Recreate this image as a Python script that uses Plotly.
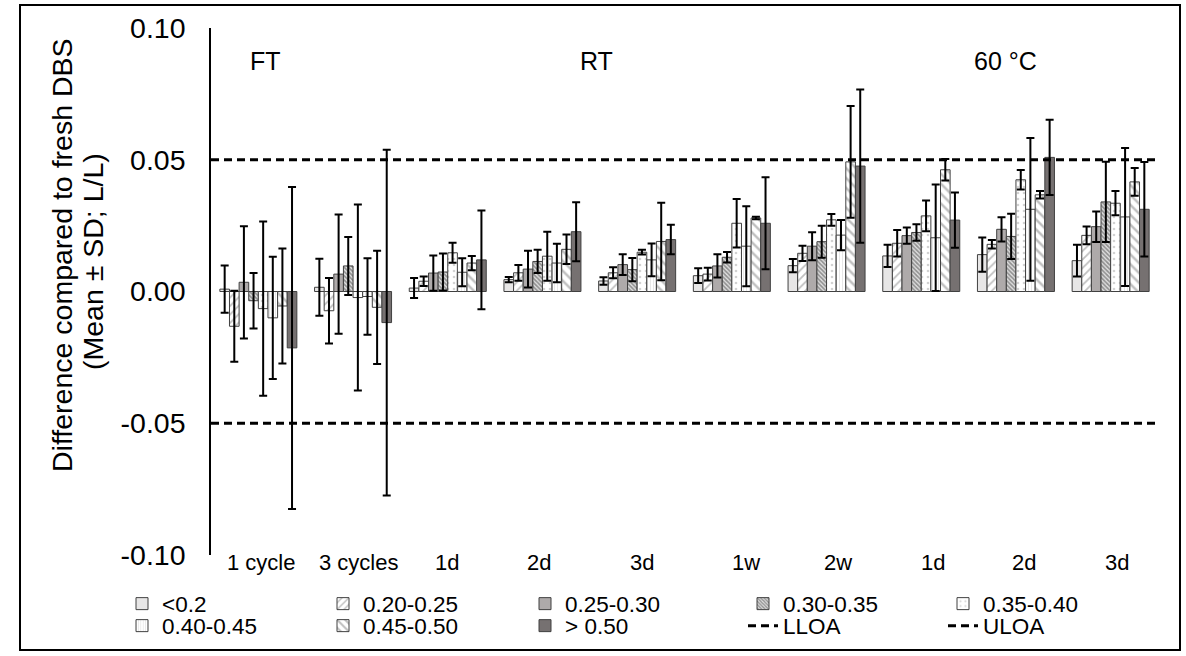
import plotly.graph_objects as go

# ---------------- data ----------------
categories = ["1 cycle", "3 cycles", "1d", "2d", "3d", "1w", "2w", "1d", "2d", "3d"]
group_titles = ["FT", "RT", "60 °C"]
series_names = ["<0.2", "0.20-0.25", "0.25-0.30", "0.30-0.35", "0.35-0.40",
                "0.40-0.45", "0.45-0.50", "> 0.50"]

mean_lt020 = [0.0009, 0.0016, 0.0013, 0.0045, 0.0040, 0.0060, 0.0098, 0.0135, 0.0140, 0.0117]
sd_lt020 = [0.0090, 0.0108, 0.0038, 0.0010, 0.0014, 0.0028, 0.0025, 0.0042, 0.0065, 0.0060]

mean_020_025 = [-0.0132, -0.0073, 0.0039, 0.0071, 0.0071, 0.0066, 0.0145, 0.0183, 0.0179, 0.0213]
sd_020_025 = [0.0135, 0.0124, 0.0018, 0.0030, 0.0021, 0.0024, 0.0029, 0.0050, 0.0016, 0.0034]

mean_025_030 = [0.0035, 0.0066, 0.0070, 0.0085, 0.0102, 0.0097, 0.0172, 0.0212, 0.0236, 0.0246]
sd_025_030 = [0.0213, 0.0226, 0.0067, 0.0070, 0.0039, 0.0044, 0.0053, 0.0031, 0.0046, 0.0058]

mean_030_035 = [-0.0035, 0.0097, 0.0074, 0.0114, 0.0083, 0.0130, 0.0189, 0.0224, 0.0209, 0.0340]
sd_030_035 = [0.0105, 0.0110, 0.0070, 0.0044, 0.0044, 0.0020, 0.0061, 0.0031, 0.0086, 0.0152]

mean_035_040 = [-0.0065, -0.0023, 0.0147, 0.0134, 0.0149, 0.0259, 0.0272, 0.0287, 0.0424, 0.0335]
sd_035_040 = [0.0331, 0.0353, 0.0038, 0.0093, 0.0009, 0.0092, 0.0022, 0.0058, 0.0037, 0.0046]

mean_040_045 = [-0.0100, -0.0019, 0.0073, 0.0108, 0.0120, 0.0172, 0.0214, 0.0204, 0.0312, 0.0283]
sd_040_045 = [0.0232, 0.0145, 0.0053, 0.0073, 0.0062, 0.0152, 0.0057, 0.0202, 0.0271, 0.0262]

mean_045_050 = [-0.0055, -0.0060, 0.0108, 0.0160, 0.0190, 0.0279, 0.0492, 0.0462, 0.0367, 0.0416]
sd_045_050 = [0.0218, 0.0215, 0.0027, 0.0056, 0.0147, 0.0005, 0.0212, 0.0041, 0.0014, 0.0053]

mean_gt050 = [-0.0214, -0.0118, 0.0120, 0.0227, 0.0197, 0.0259, 0.0476, 0.0271, 0.0509, 0.0312]
sd_gt050 = [0.0611, 0.0656, 0.0187, 0.0112, 0.0056, 0.0175, 0.0291, 0.0105, 0.0143, 0.0179]

loa_names = ["LLOA", "ULOA"]
loa_values = [-0.05, 0.05]

y_tick_values = [-0.10, -0.05, 0.00, 0.05, 0.10]
y_tick_labels = ["-0.10", "-0.05", "0.00", "0.05", "0.10"]

y_title_lines = ["Difference compared to fresh DBS", "(Mean ± SD; L/L)"]

means = [mean_lt020, mean_020_025, mean_025_030, mean_030_035,
         mean_035_040, mean_040_045, mean_045_050, mean_gt050]
sds = [sd_lt020, sd_020_025, sd_025_030, sd_030_035,
       sd_035_040, sd_040_045, sd_045_050, sd_gt050]

# ---------------- styles ----------------
FONT = "Arial, 'Liberation Sans', sans-serif"
W, H = 1186, 656
L, R, T, B = 211, 28, 28, 101
PW, PH = W - L - R, H - T - B


def px2x(px):
    return (px - L) / PW


def py2y(py):
    return (H - B - py) / PH


styles = [
    dict(color="#E7E6E6"),
    dict(color="white", pattern=dict(shape="/", fgcolor="#7F7F7F", bgcolor="white", size=6, solidity=0.3)),
    dict(color="#AEAAAA"),
    dict(color="white", pattern=dict(shape="\\", fgcolor="#3F3F3F", bgcolor="#E0E0E0", size=3, solidity=0.55)),
    dict(color="white", pattern=dict(shape=".", fgcolor="#A6A6A6", bgcolor="white", size=6, solidity=0.15)),
    dict(color="white", pattern=dict(shape="|", fgcolor="#BFBFBF", bgcolor="white", size=3, solidity=0.25)),
    dict(color="white", pattern=dict(shape="\\", fgcolor="#7F7F7F", bgcolor="white", size=7, solidity=0.35)),
    dict(color="#767171"),
]

legend_cols_px = [122, 323, 525, 743, 943]
legend_rows_px = [604, 626]

fig = go.Figure()
xpos = list(range(len(categories)))

for i, (name, m, s, st) in enumerate(zip(series_names, means, sds, styles)):
    marker = dict(color=st["color"], line=dict(color="#404040", width=1))
    if "pattern" in st:
        marker["pattern"] = st["pattern"]
    fig.add_trace(go.Bar(
        x=xpos, y=m, name=name,
        marker=marker,
        error_y=dict(type="data", array=s, visible=True, color="black", thickness=2, width=4),
        legend=f"legend{i + 2}",
    ))

for j, (name, val) in enumerate(zip(loa_names, loa_values)):
    k = len(series_names) + j + 2
    fig.add_trace(go.Scatter(
        x=[0, 1], y=[val, val], mode="lines", name=name,
        line=dict(color="black", width=3, dash="8px,5px"),
        xaxis="x2", yaxis="y", legend=f"legend{k}",
    ))

# legends: one per entry, placed in a 5 x 2 grid
legend_layout = {}
n_items = len(series_names) + len(loa_names)
for k in range(n_items):
    legend_layout[f"legend{k + 2}"] = dict(
        x=px2x(legend_cols_px[k % 5]), y=py2y(legend_rows_px[k // 5]),
        xanchor="left", yanchor="middle", visible=True,
        font=dict(family=FONT, size=22.5, color="black"),
        bgcolor="rgba(0,0,0,0)", borderwidth=0,
        itemwidth=30,
    )

annotations = []
# category labels
label_shift = [3, 5, -1, -3, 5, 14, 11, 12, 8, 6]
for xi, (lab, sh) in enumerate(zip(categories, label_shift)):
    annotations.append(dict(x=xi, y=0, xref="x", yref="paper", text=lab, showarrow=False,
                            xanchor="center", yanchor="middle", yshift=-7, xshift=sh,
                            font=dict(family=FONT, size=22, color="black")))
# group titles
title_px = [265, 596, 1005]
for t, p in zip(group_titles, title_px):
    annotations.append(dict(x=px2x(p), y=py2y(61), xref="paper", yref="paper", text=t,
                            showarrow=False, xanchor="center", yanchor="middle",
                            font=dict(family=FONT, size=25, color="black")))
# y-axis title lines
for line, (lx, ly) in zip(y_title_lines, [(62, 255), (93, 262)]):
    annotations.append(dict(x=px2x(lx), y=py2y(ly), xref="paper", yref="paper", text=line,
                            showarrow=False, textangle=-90, xanchor="center", yanchor="middle",
                            font=dict(family=FONT, size=28.5, color="black")))

fig.update_layout(
    width=W, height=H,
    margin=dict(l=L, r=R, t=T, b=B, autoexpand=False),
    paper_bgcolor="white", plot_bgcolor="white",
    barmode="group", bargap=0.187, bargroupgap=0,
    font=dict(family=FONT, color="black"),
    showlegend=True,
    xaxis=dict(range=[-0.5, len(categories) - 0.5], showticklabels=False, showgrid=False,
               zeroline=False, showline=False, ticks=""),
    xaxis2=dict(range=[0, 1], overlaying="x", visible=False),
    yaxis=dict(range=[-0.1, 0.1], tickvals=y_tick_values, ticktext=y_tick_labels,
               showgrid=False, zeroline=False, showline=True, linecolor="black", linewidth=1.5,
               ticks="", ticklabelstandoff=18,
               tickfont=dict(family=FONT, size=28.5, color="black")),
    annotations=annotations,
    shapes=[dict(type="rect", xref="paper", yref="paper",
                 x0=px2x(20), x1=px2x(1180), y0=py2y(650), y1=py2y(5),
                 line=dict(color="black", width=2), fillcolor="rgba(0,0,0,0)", layer="below")],
    **legend_layout,
)

fig.write_html("out.html", config={"displayModeBar": False},
               post_script="document.body.style.margin='0';document.body.style.overflow='hidden';")
